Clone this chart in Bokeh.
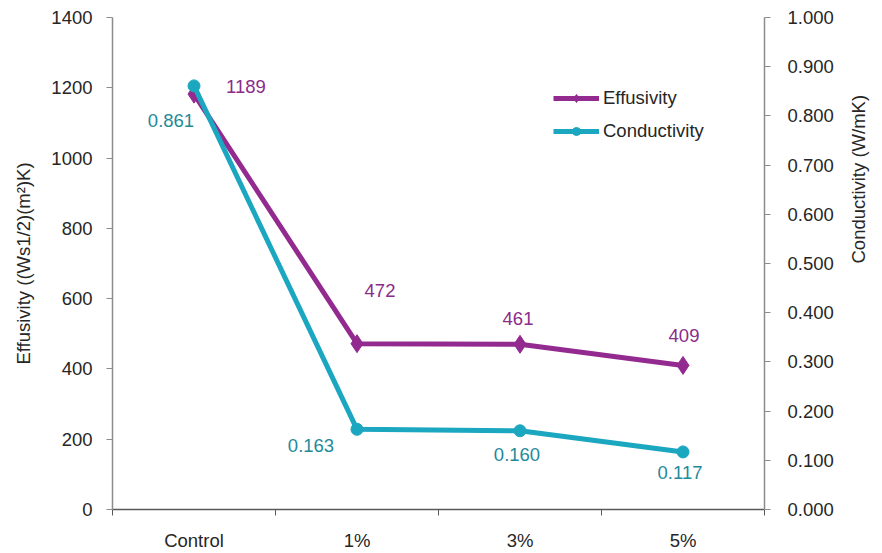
import math
from bokeh.plotting import figure
from bokeh.models import (Range1d, LinearAxis, FixedTicker, Legend, LegendItem,
                          ColumnDataSource, NumeralTickFormatter)
from bokeh.core.properties import value
from bokeh.embed import file_html
from bokeh.resources import INLINE

# ---- data ----
categories = ["Control", "1%", "3%", "5%"]
effusivity = [1182, 472, 470, 410]            # plotted positions
effusivity_labels = ["1189", "472", "461", "409"]
conductivity = [0.861, 0.163, 0.160, 0.117]
conductivity_labels = ["0.861", "0.163", "0.160", "0.117"]
left_ticks = [0, 200, 400, 600, 800, 1000, 1200, 1400]
right_ticks = [0.0, 0.1, 0.2, 0.3, 0.4, 0.5, 0.6, 0.7, 0.8, 0.9, 1.0]
left_title = "Effusivity ((Ws1/2)(m\u00b2)K)"
right_title = "Conductivity (W/mK)"

PURPLE = "#932A8F"
TEAL = "#1AA7BF"
PURPLE_TXT = "#8B2B8A"
TEAL_TXT = "#1F8A9A"
FONT = "Liberation Sans"
FS = "18.5px"

xs = [i + 0.5 for i in range(len(categories))]

p = figure(width=882, height=553, output_backend="svg", toolbar_location=None,
           x_range=Range1d(0, len(categories)), y_range=Range1d(0, 1400),
           min_border_left=112, min_border_right=118, min_border_top=17,
           min_border_bottom=44, outline_line_color=None)
p.extra_y_ranges = {"cond": Range1d(0, 1.0)}
p.xgrid.visible = False
p.ygrid.visible = False

# left axis
ya = p.yaxis[0]
ya.ticker = FixedTicker(ticks=left_ticks)
ya.axis_label = left_title
ya.axis_line_color = "#8C8C8C"
ya.axis_line_width = 1.5
ya.major_tick_line_color = "#8C8C8C"
ya.major_tick_out = 6
ya.major_tick_in = 0
ya.minor_tick_line_color = None
ya.major_label_standoff = 14
ya.axis_label_standoff = 14

# bottom axis
xa = p.xaxis[0]
xa.ticker = FixedTicker(ticks=xs, minor_ticks=list(range(len(categories) + 1)))
xa.major_label_overrides = {x: c for x, c in zip(xs, categories)}
xa.axis_line_color = "#5A5A5A"
xa.axis_line_width = 1.5
xa.major_tick_line_color = None
xa.major_tick_out = 6
xa.major_tick_in = 0
xa.minor_tick_line_color = "#5A5A5A"
xa.minor_tick_out = 6
xa.minor_tick_in = 0
xa.major_label_standoff = 14

# right axis
ra = LinearAxis(y_range_name="cond", ticker=FixedTicker(ticks=right_ticks),
                formatter=NumeralTickFormatter(format="0.000"),
                axis_label=right_title)
ra.axis_line_color = "#8C8C8C"
ra.axis_line_width = 1.5
ra.major_tick_line_color = "#8C8C8C"
ra.major_tick_out = 6
ra.major_tick_in = 0
ra.minor_tick_line_color = None
ra.major_label_standoff = 17
ra.axis_label_standoff = 22
ra.axis_label_orientation = math.pi / 2
p.add_layout(ra, "right")

for ax in (ya, xa, ra):
    ax.major_label_text_font = FONT
    ax.major_label_text_font_size = FS
    ax.major_label_text_color = "#262626"
    ax.axis_label_text_font = FONT
    ax.axis_label_text_font_size = FS
    ax.axis_label_text_font_style = "normal"
    ax.axis_label_text_color = "#262626"

# series
src_e = ColumnDataSource(dict(x=xs, y=effusivity, lab=effusivity_labels,
                              dx=[52, 23, -2, 1], dy=[-8, -53, -26, -30]))
src_c = ColumnDataSource(dict(x=xs, y=conductivity, lab=conductivity_labels,
                              dx=[-23, -46, -3, -3], dy=[35, 16, 24, 21]))

le = p.line("x", "y", source=src_e, line_color=PURPLE, line_width=5)
me = p.scatter("x", "y", source=src_e, marker="diamond", size=18,
               fill_color=PURPLE, line_color=PURPLE)
lc = p.line("x", "y", source=src_c, line_color=TEAL, line_width=5, y_range_name="cond")
mc = p.scatter("x", "y", source=src_c, marker="circle", size=12,
               fill_color=TEAL, line_color=TEAL, y_range_name="cond")

p.text("x", "y", text="lab", source=src_e, x_offset="dx", y_offset="dy",
       text_align="center", text_baseline="middle", text_color=PURPLE_TXT,
       text_font=value(FONT), text_font_size=FS)
p.text("x", "y", text="lab", source=src_c, x_offset="dx", y_offset="dy",
       text_align="center", text_baseline="middle", text_color=TEAL_TXT,
       text_font=value(FONT), text_font_size=FS, y_range_name="cond")

legend = Legend(items=[LegendItem(label="Effusivity", renderers=[le, me]),
                       LegendItem(label="Conductivity", renderers=[lc, mc])],
                location=(441, 367), border_line_color=None,
                background_fill_alpha=0, padding=0, margin=0,
                glyph_width=46, glyph_height=20, label_height=20,
                spacing=11, label_standoff=4,
                label_text_font=FONT, label_text_font_size=FS,
                label_text_color="#262626")
p.add_layout(legend)

open("out.html", "w").write(file_html(p, INLINE))
